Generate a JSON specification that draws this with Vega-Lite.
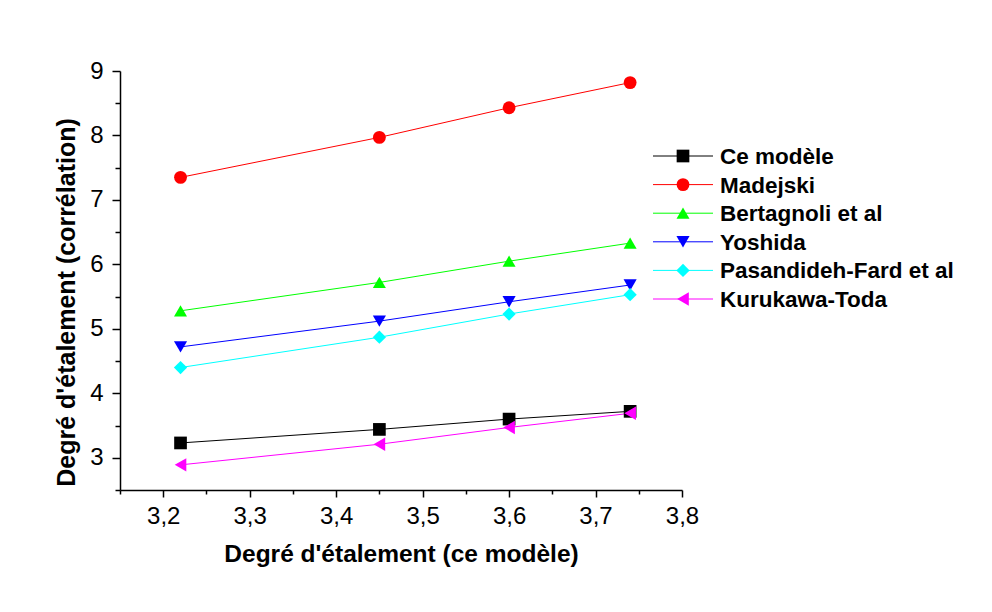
{
  "$schema": "https://vega.github.io/schema/vega-lite/v6.json",
  "autosize": {"type": "none"},
  "padding": {"left": 120, "top": 71, "right": 310, "bottom": 122},
  "width": 562,
  "height": 419,
  "background": "white",
  "config": {
    "view": {"stroke": null},
    "font": "Liberation Sans"
  },
  "datasets": {
    "pts": [
      {"x": 3.22, "y": 3.23, "series": "Ce modèle"},
      {"x": 3.45, "y": 3.44, "series": "Ce modèle"},
      {"x": 3.6, "y": 3.6, "series": "Ce modèle"},
      {"x": 3.74, "y": 3.72, "series": "Ce modèle"},
      {"x": 3.22, "y": 7.35, "series": "Madejski"},
      {"x": 3.45, "y": 7.97, "series": "Madejski"},
      {"x": 3.6, "y": 8.43, "series": "Madejski"},
      {"x": 3.74, "y": 8.82, "series": "Madejski"},
      {"x": 3.22, "y": 5.28, "series": "Bertagnoli et al"},
      {"x": 3.45, "y": 5.72, "series": "Bertagnoli et al"},
      {"x": 3.6, "y": 6.05, "series": "Bertagnoli et al"},
      {"x": 3.74, "y": 6.33, "series": "Bertagnoli et al"},
      {"x": 3.22, "y": 4.72, "series": "Yoshida"},
      {"x": 3.45, "y": 5.12, "series": "Yoshida"},
      {"x": 3.6, "y": 5.42, "series": "Yoshida"},
      {"x": 3.74, "y": 5.68, "series": "Yoshida"},
      {"x": 3.22, "y": 4.4, "series": "Pasandideh-Fard et al"},
      {"x": 3.45, "y": 4.87, "series": "Pasandideh-Fard et al"},
      {"x": 3.6, "y": 5.23, "series": "Pasandideh-Fard et al"},
      {"x": 3.74, "y": 5.53, "series": "Pasandideh-Fard et al"},
      {"x": 3.22, "y": 2.89, "series": "Kurukawa-Toda"},
      {"x": 3.45, "y": 3.21, "series": "Kurukawa-Toda"},
      {"x": 3.6, "y": 3.47, "series": "Kurukawa-Toda"},
      {"x": 3.74, "y": 3.69, "series": "Kurukawa-Toda"}
    ],
    "leg": [
      {"series": "Ce modèle"},
      {"series": "Madejski"},
      {"series": "Bertagnoli et al"},
      {"series": "Yoshida"},
      {"series": "Pasandideh-Fard et al"},
      {"series": "Kurukawa-Toda"}
    ]
  },
  "layer": [
    {
      "data": {"name": "pts"},
      "encoding": {
        "x": {
          "field": "x", "type": "quantitative",
          "scale": {"domain": [3.15, 3.8], "nice": false, "zero": false},
          "axis": {
            "title": "Degré d'étalement (ce modèle)",
            "values": [3.15, 3.2, 3.25, 3.3, 3.35, 3.4, 3.45, 3.5, 3.55, 3.6, 3.65, 3.7, 3.75, 3.8],
            "labelExpr": "abs(datum.value*10 - round(datum.value*10)) < 0.001 ? replace(format(datum.value, '.1f'), '.', ',') : ''",
            "tickSize": {"condition": {"test": "abs(datum.value*10 - round(datum.value*10)) < 0.001", "value": 7}, "value": 4},
            "grid": false,
            "domainColor": "black", "domainWidth": 1.5,
            "tickColor": "black", "tickWidth": 1.5,
            "labelFont": "Liberation Sans", "labelFontSize": 24, "labelColor": "black",
            "labelPadding": 7, "labelOverlap": false, "labelFlush": false,
            "titleFont": "Liberation Sans", "titleFontSize": 24.5, "titleFontWeight": "bold", "titleColor": "black",
            "titlePadding": 14
          }
        },
        "y": {
          "field": "y", "type": "quantitative",
          "scale": {"domain": [2.5, 9], "nice": false, "zero": false},
          "axis": {
            "title": "Degré d'étalement (corrélation)",
            "titleY": 231,
            "values": [2.5, 3, 3.5, 4, 4.5, 5, 5.5, 6, 6.5, 7, 7.5, 8, 8.5, 9],
            "labelExpr": "datum.value % 1 == 0 ? format(datum.value, 'd') : ''",
            "tickSize": {"condition": {"test": "datum.value % 1 == 0", "value": 8}, "value": 5},
            "grid": false,
            "domainColor": "black", "domainWidth": 1.5,
            "tickColor": "black", "tickWidth": 1.5,
            "labelFont": "Liberation Sans", "labelFontSize": 24, "labelColor": "black",
            "labelPadding": 9, "labelOverlap": false, "labelFlush": false,
            "titleFont": "Liberation Sans", "titleFontSize": 25, "titleFontWeight": "bold", "titleColor": "black",
            "titlePadding": 10
          }
        },
        "color": {
          "field": "series", "type": "nominal",
          "scale": {
            "domain": ["Ce modèle", "Madejski", "Bertagnoli et al", "Yoshida", "Pasandideh-Fard et al", "Kurukawa-Toda"],
            "range": ["#000000", "#FF0000", "#00FF00", "#0000FF", "#00FFFF", "#FF00FF"]
          },
          "legend": null
        }
      },
      "layer": [
        {"mark": {"type": "line", "strokeWidth": 1}},
        {
          "mark": {"type": "point", "filled": true, "opacity": 1},
          "encoding": {
            "shape": {
              "field": "series", "type": "nominal",
              "scale": {
                "domain": ["Ce modèle", "Madejski", "Bertagnoli et al", "Yoshida", "Pasandideh-Fard et al", "Kurukawa-Toda"],
                "range": ["square", "circle", "triangle-up", "triangle-down", "diamond", "triangle-left"]
              },
              "legend": null
            },
            "size": {
              "field": "series", "type": "nominal",
              "scale": {
                "domain": ["Ce modèle", "Madejski", "Bertagnoli et al", "Yoshida", "Pasandideh-Fard et al", "Kurukawa-Toda"],
                "range": [161, 180, 225, 225, 195, 225]
              },
              "legend": null
            }
          }
        }
      ]
    },
    {
      "data": {"name": "leg"},
      "encoding": {
        "y": {
          "field": "series", "type": "nominal",
          "scale": {
            "type": "point",
            "domain": ["Ce modèle", "Madejski", "Bertagnoli et al", "Yoshida", "Pasandideh-Fard et al", "Kurukawa-Toda"],
            "range": [85, 228], "padding": 0
          },
          "axis": null
        },
        "color": {"field": "series", "type": "nominal", "legend": null}
      },
      "layer": [
        {
          "mark": {"type": "rule", "strokeWidth": 1},
          "encoding": {
            "x": {"datum": 0, "type": "quantitative", "scale": {"domain": [0, 1], "range": [533, 593]}, "axis": null},
            "x2": {"datum": 1}
          }
        },
        {
          "mark": {"type": "point", "filled": true, "opacity": 1},
          "encoding": {
            "x": {"datum": 0.5, "type": "quantitative"},
            "shape": {"field": "series", "type": "nominal", "legend": null},
            "size": {"field": "series", "type": "nominal", "legend": null}
          }
        },
        {
          "mark": {"type": "text", "align": "left", "baseline": "middle", "dx": 7, "dy": 1, "font": "Liberation Sans", "fontSize": 22.5, "fontWeight": "bold", "color": "black"},
          "encoding": {
            "x": {"datum": 1, "type": "quantitative"},
            "text": {"field": "series"},
            "color": {"value": "black"}
          }
        }
      ]
    }
  ],
  "resolve": {"scale": {"x": "independent", "y": "independent"}}
}
